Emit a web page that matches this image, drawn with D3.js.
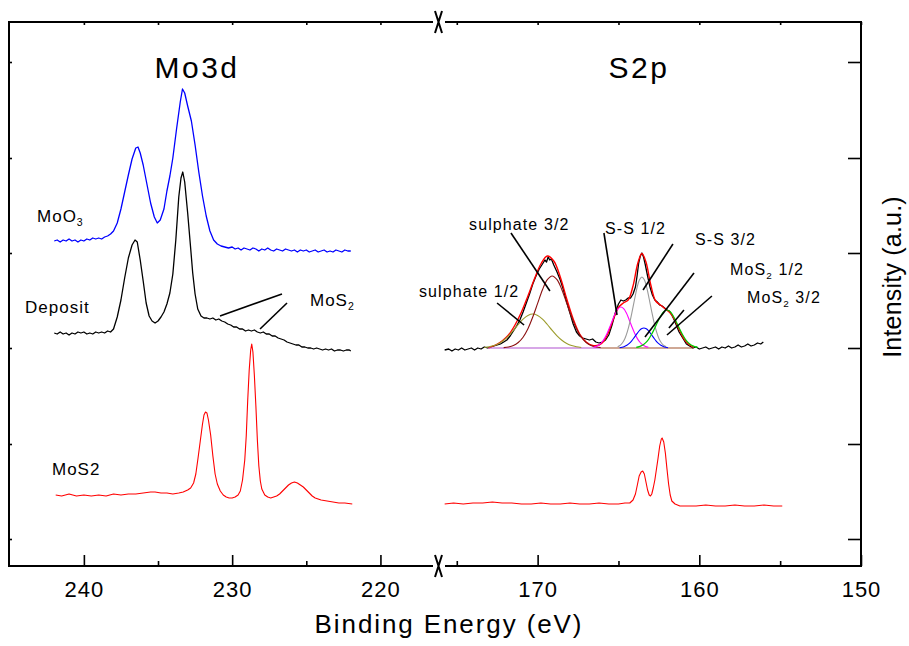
<!DOCTYPE html>
<html><head><meta charset="utf-8">
<script src="https://cdn.jsdelivr.net/npm/d3@7"></script>
<style>
body{margin:0;background:#fff}
svg{display:block}
text{font-family:"Liberation Sans",Arial,Helvetica,sans-serif;fill:#000}
</style>
</head><body>
<svg id="c" width="909" height="646"></svg>
<script>
// ---------------- DATA ----------------
// Binding energy (eV), intensity (a.u.)
const moo3 = [[242.0,325],[241.8,326],[241.6,324],[241.4,326],[241.2,325],[241.0,327],[240.8,325],[240.6,326],[240.4,324],[240.2,326],[240.0,325],[239.8,327],[239.6,326],[239.4,328],[239.2,327],[239.0,328],[238.8,327],[238.6,329],[238.4,330],[238.2,332],[238.0,335],[237.75,343],[237.5,357],[237.25,374],[237.0,391],[236.75,407],[236.5,418],[236.35,419],[236.2,413],[236.0,401],[235.75,382],[235.5,363],[235.25,349],[235.05,343],[234.85,346],[234.6,357],[234.4,375],[234.2,390],[234.0,408],[233.75,437],[233.5,464],[233.35,477],[233.2,473],[233.0,460],[232.75,445],[232.5,421],[232.25,394],[232.0,370],[231.75,350],[231.5,335],[231.25,326],[231.0,322],[230.75,320],[230.5,319],[230.25,318],[230.0,319],[229.8,317],[229.6,318],[229.4,316],[229.2,318],[229.0,317],[228.8,316],[228.6,318],[228.4,317],[228.2,315],[228.0,317],[227.8,316],[227.6,318],[227.4,316],[227.2,315],[227.0,317],[226.8,316],[226.6,315],[226.4,317],[226.2,316],[226.0,315],[225.8,316],[225.6,314],[225.4,316],[225.2,315],[225.0,316],[224.8,314],[224.6,315],[224.4,316],[224.2,314],[224.0,315],[223.8,316],[223.6,314],[223.4,315],[223.2,314],[223.0,316],[222.8,315],[222.6,314],[222.4,316],[222.2,315],[222.0,315]];

const depositMo = [[242.0,233],[241.8,232],[241.6,234],[241.4,232],[241.2,233],[241.0,231],[240.8,233],[240.6,232],[240.4,234],[240.2,233],[240.0,234],[239.8,232],[239.6,233],[239.4,232],[239.2,234],[239.0,233],[238.8,234],[238.6,233],[238.4,235],[238.2,234],[238.0,237],[237.75,249],[237.5,266],[237.25,288],[237.0,308],[236.75,321],[236.55,326],[236.4,324],[236.2,306],[236.0,285],[235.8,263],[235.6,250],[235.4,245],[235.2,243],[235.0,245],[234.8,249],[234.6,254],[234.4,262],[234.2,273],[234.0,292],[233.8,326],[233.6,369],[233.45,388],[233.33,394],[233.2,384],[233.0,353],[232.8,318],[232.66,293],[232.5,272],[232.32,257],[232.1,250],[231.9,248],[231.7,248],[231.5,247],[231.3,248],[231.1,246],[230.9,247],[230.7,245],[230.5,244],[230.3,242],[230.1,241],[229.9,239],[229.7,239],[229.5,237],[229.3,237],[229.1,235],[228.9,236],[228.7,235],[228.5,236],[228.3,234],[228.1,233],[227.9,234],[227.7,232],[227.5,232],[227.3,230],[227.1,230],[226.9,228],[226.7,227],[226.5,226],[226.3,224],[226.1,223],[225.9,222],[225.7,221],[225.5,221],[225.3,219],[225.1,219],[224.9,218],[224.7,218],[224.5,217],[224.3,218],[224.1,217],[223.9,216],[223.7,217],[223.5,216],[223.3,217],[223.1,215],[222.9,216],[222.7,216],[222.5,215],[222.3,216],[222.1,216],[222.0,215]];

const mos2Mo = [[241.9,71],[241.5,70],[241.0,72],[240.5,70],[240.0,71],[239.5,70],[239.0,71],[238.5,70],[238.0,72],[237.5,71],[237.0,72],[236.5,72],[236.0,73],[235.5,74],[235.2,74],[234.8,73],[234.4,73],[234.0,72],[233.6,73],[233.3,74],[233.0,76],[232.8,78],[232.6,83],[232.45,92],[232.3,108],[232.15,125],[232.0,142],[231.9,151],[231.8,154],[231.7,153],[231.6,146],[231.45,131],[231.3,110],[231.15,92],[231.0,82],[230.8,75],[230.6,71],[230.4,69],[230.2,68],[230.0,68],[229.8,69],[229.6,71],[229.45,75],[229.3,86],[229.15,106],[229.05,130],[228.95,166],[228.85,196],[228.75,216],[228.68,222],[228.6,214],[228.5,190],[228.4,160],[228.3,126],[228.2,100],[228.1,85],[228.0,77],[227.8,71],[227.6,69],[227.4,68],[227.2,69],[227.0,70],[226.8,72],[226.6,75],[226.4,78],[226.2,81],[226.0,83],[225.8,84],[225.6,83],[225.4,81],[225.2,79],[225.0,76],[224.8,73],[224.6,70],[224.4,68],[224.2,67],[224.0,66],[223.6,65],[223.2,64],[222.8,63],[222.4,63],[221.9,62]];

const depositS = [[175.75,216],[175.5,217],[175.3,215],[175.1,217],[174.9,216],[174.7,218],[174.5,216],[174.3,217],[174.1,218],[173.9,216],[173.7,218],[173.5,217],[173.3,219],[173.1,218],[172.9,219],[172.7,220],[172.5,221],[172.3,222],[172.1,224],[171.9,226],[171.7,230],[171.5,235],[171.3,240],[171.1,246],[170.9,254],[170.7,263],[170.5,272],[170.3,282],[170.1,290],[169.9,297],[169.7,302],[169.55,306],[169.45,304],[169.35,309],[169.25,306],[169.15,307],[169.0,301],[168.8,294],[168.6,286],[168.4,276],[168.2,264],[168.0,253],[167.8,242],[167.6,234],[167.4,230],[167.2,228],[167.0,227],[166.8,226],[166.6,227],[166.4,224],[166.2,223],[166.0,224],[165.8,226],[165.6,231],[165.4,241],[165.2,253],[165.0,262],[164.85,266],[164.7,265],[164.55,266],[164.4,268],[164.25,268],[164.1,272],[163.95,279],[163.85,290],[163.75,303],[163.65,310],[163.55,313],[163.45,309],[163.35,302],[163.2,290],[163.05,279],[162.9,271],[162.75,266],[162.6,264],[162.45,261],[162.3,260],[162.15,258],[162.0,256],[161.85,255],[161.7,251],[161.55,246],[161.4,240],[161.25,234],[161.1,230],[160.95,226],[160.8,222],[160.6,220],[160.4,218],[160.2,219],[160.0,217],[159.8,218],[159.6,219],[159.4,217],[159.2,218],[159.0,219],[158.8,217],[158.6,219],[158.4,218],[158.2,220],[158.0,218],[157.8,219],[157.6,221],[157.4,219],[157.2,220],[157.0,222],[156.8,220],[156.6,221],[156.4,223],[156.2,222],[156.04,224]];

const mos2S = [[175.75,62],[175.2,63],[174.6,62],[174.0,63],[173.4,63],[172.8,64],[172.2,63],[171.6,63],[171.0,62],[170.4,62],[169.8,63],[169.2,62],[168.6,62],[168.0,63],[167.4,62],[166.8,62],[166.2,63],[165.6,62],[165.0,62],[164.6,63],[164.3,63],[164.1,66],[163.95,72],[163.82,82],[163.72,90],[163.6,94],[163.5,95],[163.4,92],[163.3,84],[163.2,76],[163.1,71],[163.02,70],[162.94,72],[162.85,78],[162.75,86],[162.65,97],[162.55,108],[162.45,120],[162.35,127],[162.3,128],[162.2,124],[162.1,113],[162.0,97],[161.9,82],[161.8,71],[161.7,65],[161.5,62],[161.2,60],[160.8,60],[160.2,60],[159.6,61],[159.0,60],[158.4,60],[157.8,61],[157.2,60],[156.6,60],[156.0,61],[155.4,60],[154.87,60]];

// fitted components of the deposit S2p spectrum
const fitEnvelope = [[173.04,218],[172.6,221],[172.2,225],[171.8,231],[171.4,241],[171.0,254],[170.6,270],[170.2,287],[169.8,302],[169.4,310],[169.0,305],[168.6,289],[168.2,267],[167.8,247],[167.4,232],[167.0,224],[166.6,220.5],[166.2,221],[165.9,225],[165.6,234.5],[165.3,247.5],[165.0,258.5],[164.7,263],[164.4,266],[164.1,280],[163.8,303],[163.55,312.5],[163.3,304],[163.0,281],[162.7,265],[162.4,261],[162.1,257],[161.8,253],[161.5,245.5],[161.2,235],[160.9,226],[160.6,221],[160.35,219]];

const sulphate12 = [[173.3,218.5],[173.0,219.2],[172.7,220.4],[172.4,222.6],[172.1,225.8],[171.8,230.2],[171.5,235.7],[171.2,241.5],[170.9,246.9],[170.6,250.6],[170.3,252],[170.0,250.6],[169.7,246.9],[169.4,241.5],[169.1,235.7],[168.8,230.2],[168.5,225.8],[168.2,222.6],[167.9,220.4],[167.6,219.2],[167.3,218.5]];
const sulphate32 = [[172.1,218.4],[171.8,219],[171.5,220.4],[171.2,223.5],[170.9,228.8],[170.6,237.3],[170.3,249],[170.0,262.6],[169.7,276.3],[169.4,286.3],[169.1,290],[168.8,286.3],[168.5,276.3],[168.2,262.6],[167.9,249],[167.6,237.3],[167.3,228.8],[167.0,223.5],[166.7,220.4],[166.4,219],[166.1,218.4]];
const ss12 = [[166.55,218.7],[166.38,219.5],[166.21,221],[166.04,223.5],[165.87,227.4],[165.70,232.8],[165.53,239.3],[165.36,246.3],[165.19,252.9],[165.02,257.4],[164.85,259],[164.68,257.4],[164.51,252.9],[164.34,246.3],[164.17,239.3],[164.00,232.8],[163.83,227.4],[163.66,223.5],[163.49,221],[163.32,219.5],[163.15,218.7]];
const ss32 = [[165.05,219.2],[164.90,220.6],[164.75,223.2],[164.60,227.5],[164.45,234.3],[164.30,243.6],[164.15,254.9],[164.00,267],[163.85,278.4],[163.70,286.2],[163.55,289],[163.40,286.2],[163.25,278.4],[163.10,267],[162.95,254.9],[162.80,243.6],[162.65,234.3],[162.50,227.5],[162.35,223.2],[162.20,220.6],[162.05,219.2]];
const mos2_12 = [[164.93,218.3],[164.78,218.7],[164.63,219.5],[164.48,220.7],[164.33,222.6],[164.18,225.2],[164.03,228.4],[163.88,231.8],[163.73,235],[163.58,237.2],[163.43,238],[163.28,237.2],[163.13,235],[162.98,231.8],[162.83,228.4],[162.68,225.2],[162.53,222.6],[162.38,220.7],[162.23,219.5],[162.08,218.7],[161.93,218.3]];
const mos2_32 = [[163.90,218.6],[163.71,219.4],[163.52,220.7],[163.33,223.1],[163.14,226.7],[162.95,231.7],[162.76,237.8],[162.57,244.2],[162.38,250.3],[162.19,254.5],[162.0,256],[161.81,254.5],[161.62,250.3],[161.43,244.2],[161.24,237.8],[161.05,231.7],[160.86,226.7],[160.67,223.1],[160.48,220.7],[160.29,219.4],[160.10,218.6]];
const fitBaseline1 = [[173.04,218],[166.1,218]];
const fitBaseline2 = [[166.1,218],[160.35,218]];

// axis ticks
const xMajorL = [240,230,220], xMinorL = [235,225];
const xMajorR = [170,160,150], xMinorR = [175,165,155];
const yTicks = [27,122,218,313,408,504];

// labels (text) and their anchor points (energy, intensity)
const panelTitles = ["Mo3d","S2p"];
const titleAt = [[232.37,488],[163.73,488]];
const leftLabels = ["MoO3","Deposit","MoS2","MoS2sub"];
const leftLabelAt = [[243.16,344],[243.97,253],[242.15,91],[224.75,260]];
const leftLeaders = [[[230.82,250],[226.64,272]],[[228.12,237],[226.30,263]]];
const rightLabels = ["sulphate 3/2","sulphate 1/2","S-S 1/2","S-S 3/2","MoS2 1/2","MoS2 3/2"];
const rightLabelAt = [[174.24,336],[177.34,269],[165.83,332],[160.27,321],[158.10,291],[157.05,263]];
const rightLeaders = [[[171.65,333],[169.24,275]],[[172.51,263],[170.84,241]],[[165.90,333],[165.09,251]],[[161.63,322],[163.48,276]],[[160.33,293],[163.36,229]],[[159.22,270],[162.0,231]],[[160.95,256],[161.88,238]]];

// ---------------- CHART ----------------
const svg = d3.select("#c");
const F = {l:9, r:861, t:22, b:566, brk:439};
const xL = d3.scaleLinear().domain([245.05,216.05]).range([F.l,F.brk]);
const xR = d3.scaleLinear().domain([176.1,150]).range([F.brk,F.r]);
const y = d3.scaleLinear().domain([0,544]).range([F.b,F.t]);

function lineFor(xs, curve){ return d3.line().x(d=>xs(d[0])).y(d=>y(d[1])).curve(curve||d3.curveLinear); }
function drawSeries(data, xs, color, w, curve){
  svg.append("path").datum(data).attr("fill","none").attr("stroke",color)
    .attr("stroke-width",w).attr("stroke-linejoin","round").attr("d",lineFor(xs,curve));
}

// spectra
drawSeries(moo3, xL, "#0000ff", 1.3);
drawSeries(depositMo, xL, "#000000", 1.3);
drawSeries(mos2Mo, xL, "#ff0000", 1.1);
drawSeries(mos2S, xR, "#ff0000", 1.1);

// deposit S2p data + fit (envelope, then components on top)
const smooth = d3.curveCatmullRom;
drawSeries(depositS, xR, "#000000", 1.3);
drawSeries(fitEnvelope, xR, "#ff0000", 1.4, smooth);
drawSeries(fitBaseline1, xR, "#b050d0", 1.2);
drawSeries(fitBaseline2, xR, "#a0522d", 1.2);
drawSeries(sulphate12, xR, "#9c9c2c", 1.1, smooth);
drawSeries(sulphate32, xR, "#8b1010", 1.1, smooth);
drawSeries(ss12, xR, "#ff00ff", 1.1, smooth);
drawSeries(ss32, xR, "#9a9a9a", 1.1, smooth);
drawSeries(mos2_12, xR, "#0000ff", 1.1, smooth);
drawSeries(mos2_32, xR, "#00cc00", 1.2, smooth);

// axes (ticks only; frame drawn below)
function noDomain(g){ g.select(".domain").remove(); g.selectAll(".tick line").attr("stroke","#000").attr("stroke-width",1.6); }
const tickFont = g => g.selectAll("text").attr("font-size",22).attr("letter-spacing","1px")
  .attr("font-family","'Liberation Sans',Arial,sans-serif").attr("fill","#000");

[[xL,xMajorL,xMinorL],[xR,xMajorR,xMinorR]].forEach(([xs,maj,min])=>{
  svg.append("g").attr("transform",`translate(0,${F.b})`)
    .call(d3.axisBottom(xs).tickValues(maj).tickSize(-11).tickPadding(15.5).tickFormat(d3.format("d")))
    .call(noDomain).call(tickFont);
  svg.append("g").attr("transform",`translate(0,${F.b})`)
    .call(d3.axisBottom(xs).tickValues(min).tickSize(-5).tickFormat("")).call(noDomain);
  svg.append("g").attr("transform",`translate(0,${F.t})`)
    .call(d3.axisTop(xs).tickValues(maj.concat(min)).tickSize(-3).tickFormat("")).call(noDomain);
});
svg.append("g").attr("transform",`translate(${F.l},0)`)
  .call(d3.axisLeft(y).tickValues(yTicks).tickSize(-3).tickFormat("")).call(noDomain);
svg.append("g").attr("transform",`translate(${F.r},0)`)
  .call(d3.axisRight(y).tickValues(yTicks).tickSize(-13).tickFormat("")).call(noDomain);

// frame with axis breaks
const frame = svg.append("g").attr("stroke","#000").attr("stroke-width",2).attr("fill","none");
frame.append("path").attr("d",`M${F.brk-6},${F.t}H${F.l}V${F.b}H${F.brk-6}`);
frame.append("path").attr("d",`M${F.brk+6},${F.t}H${F.r}V${F.b}H${F.brk+6}`);
[F.t,F.b].forEach(yy=>{
  frame.append("path").attr("d",`M${F.brk-4},${yy-11}L${F.brk+3},${yy+11}M${F.brk+3},${yy-11}L${F.brk-4},${yy+11}`);
});

// panel titles
panelTitles.forEach((t,i)=>{
  const xs = i===0 ? xL : xR;
  svg.append("text").attr("x",xs(titleAt[i][0])).attr("y",y(titleAt[i][1]))
    .attr("text-anchor","middle").attr("font-size",30).attr("letter-spacing","2.5px").text(t);
});

// axis titles
svg.append("text").attr("x",449).attr("y",633).attr("text-anchor","middle")
  .attr("font-size",26).attr("letter-spacing","1.9px").text("Binding Energy (eV)");
svg.append("text").attr("transform","translate(901,277) rotate(-90)").attr("text-anchor","middle")
  .attr("font-size",25).attr("letter-spacing","0.2px").text("Intensity (a.u.)");

// labels with optional subscript
function label(parent, xpx, ypx, parts, size, ls){
  const t = parent.append("text").attr("x",xpx).attr("y",ypx).attr("font-size",size).attr("letter-spacing",ls+"px");
  let shift = 0;
  parts.forEach(p=>{
    const sub = p[1];
    const ts = t.append("tspan").text(p[0]);
    const target = sub ? 4 : 0;
    if(target!==shift){ ts.attr("dy",target-shift); shift=target; }
    if(sub) ts.attr("font-size",size*0.62);
  });
}
const leftParts = [[["MoO"],["3",1]],[["Deposit"]],[["MoS2"]],[["MoS"],["2",1]]];
leftLabels.forEach((l,i)=>{
  label(svg, xL(leftLabelAt[i][0]), y(leftLabelAt[i][1]), leftParts[i], 17, 1);
});
const rightParts = [[["sulphate 3/2"]],[["sulphate 1/2"]],[["S-S 1/2"]],[["S-S 3/2"]],[["MoS"],["2",1],[" 1/2"]],[["MoS"],["2",1],[" 3/2"]]];
rightLabels.forEach((l,i)=>{
  label(svg, xR(rightLabelAt[i][0]), y(rightLabelAt[i][1]), rightParts[i], 16, 1.1);
});

// leader lines
const lead = svg.append("g").attr("stroke","#000").attr("stroke-width",1.6);
leftLeaders.forEach(s=>lead.append("line").attr("x1",xL(s[0][0])).attr("y1",y(s[0][1])).attr("x2",xL(s[1][0])).attr("y2",y(s[1][1])));
rightLeaders.forEach(s=>lead.append("line").attr("x1",xR(s[0][0])).attr("y1",y(s[0][1])).attr("x2",xR(s[1][0])).attr("y2",y(s[1][1])));
</script>
</body></html>
